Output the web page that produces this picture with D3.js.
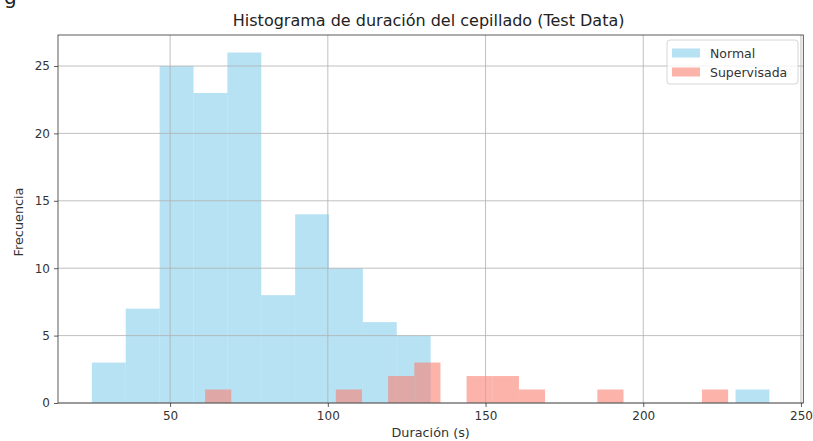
<!DOCTYPE html>
<html>
<head>
<meta charset="utf-8">
<script src="https://cdn.jsdelivr.net/npm/d3@7"></script>
<style>
  html, body { margin: 0; padding: 0; background: #fff; }
  svg { display: block; font-family: "DejaVu Sans", sans-serif; }
</style>
</head>
<body>
<svg id="chart" width="813" height="441"></svg>
<script>
// Histogram counts per bin (20 bins each)
const normalStart = 25.2;
const normalWidth = 10.74;
const normalCounts = [3, 7, 25, 23, 26, 8, 14, 10, 6, 5, 0, 0, 0, 0, 0, 0, 0, 0, 0, 1];

const supervStart = 61.1;
const supervWidth = 8.29;
const supervCounts = [1, 0, 0, 0, 0, 1, 0, 2, 3, 0, 2, 2, 1, 0, 0, 1, 0, 0, 0, 1];

const xTicks = [50, 100, 150, 200, 250];
const yTicks = [0, 5, 10, 15, 20, 25];

const seriesNames = ["Normal", "Supervisada"];
const seriesColors = ["#87ceeb", "#fa8072"];

const titleText = "Histograma de duración del cepillado (Test Data)";
const xLabelText = "Duración (s)";
const yLabelText = "Frecuencia";

function toBins(start, width, counts) {
  return counts.map((c, i) => ({ x0: start + i * width, x1: start + (i + 1) * width, n: c }));
}
const normalBins = toBins(normalStart, normalWidth, normalCounts);
const supervBins = toBins(supervStart, supervWidth, supervCounts);

const svg = d3.select("#chart");
const plotL = 58, plotR = 803.3, plotT = 35, plotB = 403;

// x limits padded 5% around the outermost bin edges
const allEdges = normalBins.concat(supervBins).flatMap(b => [b.x0, b.x1]);
const xmin = d3.min(allEdges), xmax = d3.max(allEdges);
const pad = (xmax - xmin) * 0.05;
const x = d3.scaleLinear().domain([xmin - pad, xmax + pad]).range([plotL, plotR]);
const ymax = d3.max(normalCounts.concat(supervCounts)) * 1.05;
const y = d3.scaleLinear().domain([0, ymax]).range([plotB, plotT]);

// a fragment of caption text clipped at the top edge
svg.append("text").attr("x", 4).attr("y", 4).attr("font-size", 20).attr("fill", "#222").text("g");

// bars
function drawBars(bins, color, cls) {
  svg.append("g").attr("class", cls)
    .selectAll("rect").data(bins.filter(b => b.n > 0)).join("rect")
    .attr("x", d => x(d.x0))
    .attr("y", d => y(d.n))
    .attr("width", d => x(d.x1) - x(d.x0))
    .attr("height", d => y(0) - y(d.n))
    .attr("fill", color)
    .attr("fill-opacity", 0.6);
}
drawBars(normalBins, seriesColors[0], "normal");
drawBars(supervBins, seriesColors[1], "superv");

// grid on top of the bars
const grid = svg.append("g").attr("stroke", "#b0b0b0").attr("stroke-width", 0.8);
grid.selectAll("line.v").data(xTicks).join("line").attr("class", "v")
  .attr("x1", d => x(d)).attr("x2", d => x(d)).attr("y1", plotT).attr("y2", plotB);
grid.selectAll("line.h").data(yTicks).join("line").attr("class", "h")
  .attr("x1", plotL).attr("x2", plotR).attr("y1", d => y(d)).attr("y2", d => y(d));

// axes
const xAxis = d3.axisBottom(x).tickValues(xTicks).tickSize(4).tickPadding(4).tickFormat(d3.format("d"));
const yAxis = d3.axisLeft(y).tickValues(yTicks).tickSize(4).tickPadding(4).tickFormat(d3.format("d"));
const gx = svg.append("g").attr("transform", `translate(0,${plotB})`).call(xAxis);
const gy = svg.append("g").attr("transform", `translate(${plotL},0)`).call(yAxis);
[gx, gy].forEach(g => {
  g.select(".domain").remove();
  g.selectAll(".tick line").attr("stroke", "#333").attr("stroke-width", 0.8);
  g.selectAll(".tick text").attr("fill", "#333").attr("font-size", 12)
    .attr("font-family", "DejaVu Sans, sans-serif");
});

// frame
svg.append("rect").attr("x", plotL).attr("y", plotT).attr("width", plotR - plotL).attr("height", plotB - plotT)
  .attr("fill", "none").attr("stroke", "#333").attr("stroke-width", 0.8);

// title and labels
svg.append("text").attr("x", (plotL + plotR) / 2 - 2).attr("y", 26).attr("text-anchor", "middle")
  .attr("font-size", 16).attr("fill", "#222").text(titleText);
svg.append("text").attr("x", (plotL + plotR) / 2).attr("y", 437).attr("text-anchor", "middle")
  .attr("font-size", 12.8).attr("fill", "#333").text(xLabelText);
svg.append("text").attr("transform", `translate(23,${(plotT + plotB) / 2 + 3}) rotate(-90)`)
  .attr("text-anchor", "middle").attr("font-size", 12.8).attr("fill", "#333").text(yLabelText);

// legend
const lg = svg.append("g");
lg.append("rect").attr("x", 667).attr("y", 40).attr("width", 131).attr("height", 44).attr("rx", 3)
  .attr("fill", "#fff").attr("fill-opacity", 0.8).attr("stroke", "#ccc").attr("stroke-width", 0.8);
seriesNames.forEach((name, i) => {
  const cy = 53 + i * 19;
  lg.append("rect").attr("x", 672).attr("y", cy - 4.5).attr("width", 28).attr("height", 9)
    .attr("fill", seriesColors[i]).attr("fill-opacity", 0.6);
  lg.append("text").attr("x", 710).attr("y", cy + 4.5).attr("font-size", 12.5).attr("fill", "#333").text(name);
});
</script>
</body>
</html>
